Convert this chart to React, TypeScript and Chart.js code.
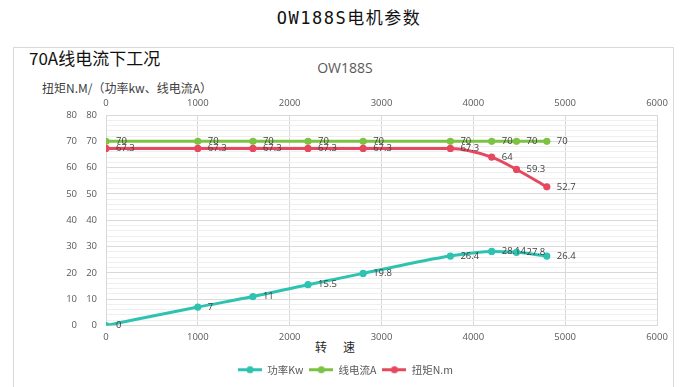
import React, { useEffect, useRef } from "react";
import { Chart, registerables } from "chart.js";

Chart.register(...registerables);

// ---- data ----
const speeds = [0, 1000, 1600, 2200, 2800, 3750, 4200, 4470, 4800];
const powerKw = [0, 7, 11, 15.5, 19.8, 26.4, 28.14, 27.8, 26.4];
const currentA = [70, 70, 70, 70, 70, 70, 70, 70, 70];
const torqueNm = [67.3, 67.3, 67.3, 67.3, 67.3, 67.3, 64, 59.3, 52.7];
const seriesNames = ["功率Kw", "线电流A", "扭矩N.m"];
const seriesColors = ["#2ec3b0", "#7cc243", "#e6485f"];
const xMin = 0;
const xMax = 6000;
const xStep = 1000;
const yMin = 0;
const yMax = 80;
const yMajorStep = 10;
const yMinorStep = 2;

const mainTitle = "OW188S电机参数";
const subTitle = "70A线电流下工况";
const chartTitle = "OW188S";
const yTitle = "扭矩N.M/（功率kw、线电流A）";
const xTitle = "转　速";

const TICK_FONT = { family: "'Open Sans', 'Noto Sans CJK SC', sans-serif", size: 9.5 };
const TICK_COLOR = "#595959";

function legendImage(color: string) {
  const c = document.createElement("canvas");
  c.width = 24;
  c.height = 9;
  const g = c.getContext("2d")!;
  g.strokeStyle = color;
  g.lineWidth = 3;
  g.beginPath();
  g.moveTo(0, 4.5);
  g.lineTo(24, 4.5);
  g.stroke();
  g.fillStyle = color;
  g.beginPath();
  g.arc(12, 4.5, 3.6, 0, Math.PI * 2);
  g.fill();
  return c;
}

const dataLabelPlugin = {
  id: "dataLabels",
  afterDatasetsDraw(chart: any) {
    const ctx = chart.ctx;
    ctx.save();
    ctx.font = "9.5px 'Open Sans', sans-serif";
    ctx.fillStyle = "#404040";
    ctx.textAlign = "left";
    ctx.textBaseline = "middle";
    chart.data.datasets.forEach((ds: any, di: number) => {
      const meta = chart.getDatasetMeta(di);
      meta.data.forEach((el: any, i: number) => {
        const v = ds.data[i].y;
        ctx.fillText(String(v), el.x + 10, el.y);
      });
    });
    ctx.restore();
  },
};

const plainTick = (v: any) => String(v);

export default function App() {
  const ref = useRef<HTMLCanvasElement>(null);

  useEffect(() => {
    if (!ref.current) return;
    const series = [powerKw, currentA, torqueNm];
    const images = seriesColors.map(legendImage);
    const chart = new Chart(ref.current, {
      type: "line",
      data: {
        datasets: series.map((vals, si) => ({
          label: seriesNames[si],
          data: speeds.map((s, i) => ({ x: s, y: vals[i] })),
          borderColor: seriesColors[si],
          backgroundColor: seriesColors[si],
          borderWidth: 3,
          pointRadius: 3.6,
          pointBorderWidth: 0,
          pointBackgroundColor: seriesColors[si],
          cubicInterpolationMode: "monotone" as const,
          fill: false,
          xAxisID: "x",
          yAxisID: "y",
        })),
      },
      options: {
        animation: false,
        responsive: false,
        events: [],
        layout: { padding: { left: 34, right: 41, top: 95, bottom: 2 } },
        plugins: {
          title: { display: false },
          tooltip: { enabled: false },
          legend: {
            position: "bottom",
            labels: {
              usePointStyle: true,
              pointStyleWidth: 24,
              padding: 6,
              color: TICK_COLOR,
              font: { family: "'Noto Sans CJK SC', sans-serif", size: 10.5 },
              generateLabels: (c: any) => {
                const items = Chart.defaults.plugins.legend.labels.generateLabels(c);
                return items.map((it: any, i: number) => ({ ...it, pointStyle: images[i] }));
              },
            },
          },
        },
        scales: {
          x: {
            type: "linear",
            position: "bottom",
            min: xMin,
            max: xMax,
            afterFit: (s: any) => {
              s.height = 33;
            },
            ticks: { stepSize: xStep, padding: 6, color: TICK_COLOR, font: TICK_FONT, maxRotation: 0, callback: plainTick },
            grid: { color: "#d9d9d9", drawTicks: false, lineWidth: 1 },
            border: { color: "#d9d9d9" },
          },
          x2: {
            type: "linear",
            position: "top",
            min: xMin,
            max: xMax,
            afterFit: (s: any) => {
              s.height = 20;
            },
            ticks: { stepSize: xStep, padding: 6, color: TICK_COLOR, font: TICK_FONT, maxRotation: 0, callback: plainTick },
            grid: { display: false, drawTicks: false },
            border: { color: "#d9d9d9" },
          },
          y: {
            type: "linear",
            position: "left",
            min: yMin,
            max: yMax,
            weight: 0,
            afterFit: (s: any) => {
              s.width = 26;
            },
            ticks: {
              stepSize: yMinorStep,
              autoSkip: false,
              padding: 9,
              color: TICK_COLOR,
              font: TICK_FONT,
              callback: (v: any) => (Number(v) % yMajorStep === 0 ? String(v) : ""),
            },
            grid: {
              drawTicks: false,
              color: (c: any) => (c.tick && c.tick.value % yMajorStep === 0 ? "#d9d9d9" : "#efefef"),
            },
            border: { color: "#d9d9d9" },
          },
          y2: {
            type: "linear",
            position: "left",
            min: yMin,
            max: yMax,
            weight: 1,
            afterFit: (s: any) => {
              s.width = 46;
            },
            ticks: { stepSize: yMajorStep, padding: 3, color: TICK_COLOR, font: TICK_FONT, callback: plainTick },
            grid: { display: false, drawTicks: false },
            border: { display: false },
          },
        },
      } as any,
      plugins: [dataLabelPlugin],
    });
    return () => chart.destroy();
  }, []);

  const abs = (o: any): React.CSSProperties => ({ position: "absolute", whiteSpace: "nowrap", margin: 0, ...o });

  return (
    <div style={{ position: "absolute", left: 0, top: 0, width: 698, height: 387, overflow: "hidden", background: "#fff" }}>
      <div style={abs({ left: 13, top: 47, width: 659, height: 360, border: "1px solid #d9d9d9" })} />
      <div
        style={abs({
          left: 0,
          width: 698,
          top: 7,
          textAlign: "center",
          fontFamily: "'DejaVu Sans Mono', 'Noto Sans CJK SC', monospace",
          fontSize: 17,
          lineHeight: "22px",
          letterSpacing: "1.5px",
          color: "#111",
        })}
      >
        {mainTitle}
      </div>
      <div
        style={abs({
          left: 29,
          top: 47,
          fontFamily: "'Noto Sans CJK SC', sans-serif",
          fontSize: 17,
          lineHeight: "22px",
          color: "#111",
        })}
      >
        {subTitle}
      </div>
      <div
        style={abs({
          left: 0,
          width: 690,
          top: 59,
          textAlign: "center",
          fontFamily: "'Open Sans', sans-serif",
          fontSize: 14,
          lineHeight: "18px",
          color: "#595959",
        })}
      >
        {chartTitle}
      </div>
      <div
        style={abs({
          left: 42,
          top: 80,
          fontFamily: "'Noto Sans CJK SC', sans-serif",
          fontSize: 12,
          lineHeight: "16px",
          color: "#404040",
        })}
      >
        {yTitle}
      </div>
      <div
        style={abs({
          left: 315,
          top: 339,
          fontFamily: "'Noto Sans CJK SC', sans-serif",
          fontSize: 12,
          lineHeight: "16px",
          letterSpacing: "2px",
          color: "#262626",
        })}
      >
        {xTitle}
      </div>
      <canvas ref={ref} width={698} height={387} style={{ position: "absolute", left: 0, top: 0, display: "block" }} />
    </div>
  );
}
